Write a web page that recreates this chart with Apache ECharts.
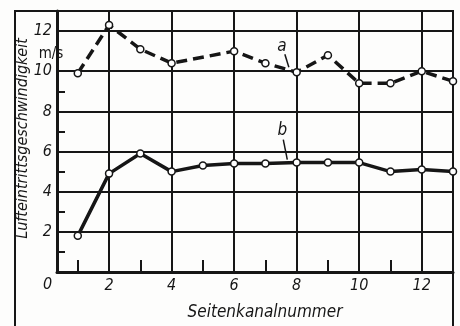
<!DOCTYPE html>
<html>
<head>
<meta charset="utf-8">
<script src="https://cdn.jsdelivr.net/npm/echarts@6/dist/echarts.min.js"></script>
<style>
html, body { margin: 0; padding: 0; background: #fdfdfc; }
#main { width: 460px; height: 326px; }
</style>
</head>
<body>
<div id="main"></div>
<script>
// Kurve a (Seitenkanal 5 ohne Messpunkt)
var kanalA = [1, 2, 3, 4, 6, 7, 8, 9, 10, 11, 12, 13];
var geschwA = [9.9, 12.3, 11.1, 10.4, 11.0, 10.4, 9.95, 10.8, 9.4, 9.4, 10.0, 9.5];
// Kurve b
var kanalB = [1, 2, 3, 4, 5, 6, 7, 8, 9, 10, 11, 12, 13];
var geschwB = [1.8, 4.9, 5.9, 5.0, 5.3, 5.4, 5.4, 5.45, 5.45, 5.45, 5.0, 5.1, 5.0];
var xTicks = [2, 4, 6, 8, 10, 12];
var xMinor = [1, 3, 5, 7, 9, 11];
var yMinor = [1, 3, 5, 7, 9];

var ink = '#161616';
var font = '"Liberation Sans Narrow", "DejaVu Sans Condensed", "Liberation Sans", sans-serif';

function pairs(xs, ys) {
    return xs.map(function (x, i) { return [x, ys[i]]; });
}

var dom = document.getElementById('main');
var chart = echarts.init(dom);
var xMin = 0.335, xMax = 13;

option = {
    backgroundColor: '#fdfdfc',
    animation: false,
    grid: {
        left: 57, right: 7, top: 11, bottom: 48,
        show: true, borderColor: ink, borderWidth: 2, backgroundColor: 'transparent'
    },
    xAxis: [{
        type: 'value', min: xMin, max: xMax, position: 'bottom',
        name: 'Seitenkanalnummer', nameLocation: 'middle', nameGap: 32, nameMoveOverlap: false,
        nameTextStyle: { fontFamily: font, fontStyle: 'italic', fontSize: 17, color: ink, padding: [0, 0, 0, 20] },
        axisLine: { lineStyle: { color: ink, width: 3 } },
        axisTick: { show: false, customValues: xTicks },
        axisLabel: { customValues: xTicks, margin: 6, fontFamily: font, fontStyle: 'italic', fontSize: 16, color: ink },
        splitLine: { show: true, lineStyle: { color: ink, width: 2 } }
    }, {
        type: 'value', min: xMin, max: xMax, position: 'bottom',
        axisLine: { show: false },
        axisLabel: { show: false },
        splitLine: { show: false },
        axisTick: { show: true, inside: true, length: 12, customValues: xMinor, lineStyle: { color: ink, width: 2 } }
    }],
    yAxis: [{
        type: 'value', min: 0, max: 13, interval: 2, position: 'left',
        name: 'Lufteintrittsgeschwindigkeit', nameLocation: 'middle', nameGap: 26, nameMoveOverlap: false,
        nameTextStyle: { fontFamily: font, fontStyle: 'italic', fontSize: 16, color: ink, padding: [0, 0, 0, 6] },
        axisLine: { lineStyle: { color: ink, width: 3 } },
        axisTick: { show: false },
        axisLabel: { showMinLabel: false, showMaxLabel: false, margin: 5, fontFamily: font, fontStyle: 'italic', fontSize: 16, color: ink },
        splitLine: { show: true, lineStyle: { color: ink, width: 2 } }
    }, {
        type: 'value', min: 0, max: 13, position: 'left',
        axisLine: { show: false },
        axisLabel: { show: false },
        splitLine: { show: false },
        axisTick: { show: true, inside: true, length: 8, customValues: yMinor, lineStyle: { color: ink, width: 2 } }
    }],
    series: [{
        name: 'a', type: 'line', xAxisIndex: 0, yAxisIndex: 0,
        data: pairs(kanalA, geschwA),
        symbol: 'circle', symbolSize: 7,
        itemStyle: { color: '#fff', borderColor: ink, borderWidth: 1.5 },
        lineStyle: { color: ink, width: 3.5, type: [11, 6] },
        z: 3
    }, {
        name: 'b', type: 'line', xAxisIndex: 0, yAxisIndex: 0,
        data: pairs(kanalB, geschwB),
        symbol: 'circle', symbolSize: 7,
        itemStyle: { color: '#fff', borderColor: ink, borderWidth: 1.5 },
        lineStyle: { color: ink, width: 3.5 },
        z: 3
    }]
};
chart.setOption(option);

// Beschriftungen a / b mit Hinweisstrich, am Kurvenpunkt verankert
var pA = chart.convertToPixel({ xAxisIndex: 0, yAxisIndex: 0 }, [7.75, 10.1]);
var pB = chart.convertToPixel({ xAxisIndex: 0, yAxisIndex: 0 }, [7.7, 5.45]);
var origin = chart.convertToPixel({ xAxisIndex: 0, yAxisIndex: 0 }, [0, 0]);
var unit = chart.convertToPixel({ xAxisIndex: 0, yAxisIndex: 0 }, [xMin, 11]);

chart.setOption({
    graphic: [
        { type: 'rect', shape: { x: 15, y: 11, width: 438, height: 330 },
          style: { fill: 'none', stroke: ink, lineWidth: 2 }, silent: true },
        { type: 'text', x: origin[0] + 1, y: origin[1] + 13,
          style: { text: '0', font: 'italic 16px ' + font, fill: ink, align: 'center', verticalAlign: 'middle' } },
        { type: 'text', x: unit[0] - 6, y: unit[1] + 3,
          style: { text: 'm/s', font: '15px ' + font, fill: ink, align: 'center', verticalAlign: 'middle' } },
        { type: 'line', shape: { x1: pA[0] - 4, y1: pA[1] - 15, x2: pA[0], y2: pA[1] - 2 },
          style: { stroke: ink, lineWidth: 1.5 } },
        { type: 'text', x: pA[0] - 7, y: pA[1] - 23,
          style: { text: 'a', font: 'italic 17px ' + font, fill: ink, align: 'center', verticalAlign: 'middle' } },
        { type: 'line', shape: { x1: pB[0] - 4, y1: pB[1] - 23, x2: pB[0], y2: pB[1] - 3 },
          style: { stroke: ink, lineWidth: 1.5 } },
        { type: 'text', x: pB[0] - 5, y: pB[1] - 32,
          style: { text: 'b', font: 'italic 17px ' + font, fill: ink, align: 'center', verticalAlign: 'middle' } }
    ]
});
</script>
</body>
</html>
